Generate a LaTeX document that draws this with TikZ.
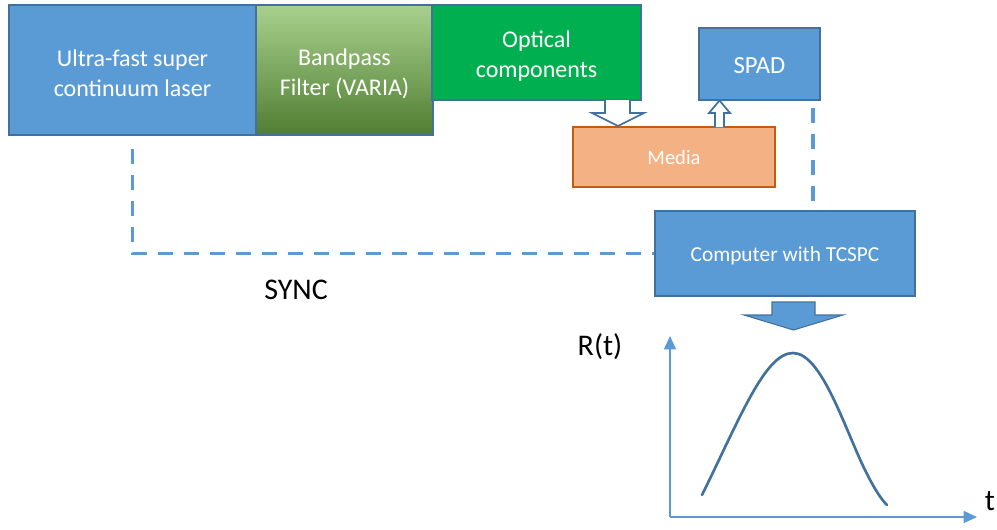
\documentclass[tikz,border=0pt]{standalone}
\usepackage{fontspec}
\setmainfont{Carlito}
\usetikzlibrary{arrows.meta,calc}
\definecolor{bfill}{HTML}{5B9BD5}
\definecolor{bdraw}{HTML}{41719C}
\definecolor{gfill}{HTML}{00B050}
\definecolor{gtop}{HTML}{A9D18E}
\definecolor{gbot}{HTML}{507E32}
\definecolor{mfill}{HTML}{F4B183}
\definecolor{mdraw}{HTML}{C55A11}
\tikzset{
  boxst/.style={draw=bdraw, line width=1.5pt, inner sep=0pt, text=white, align=center, font=\fontsize{18}{22.5}\selectfont},
  boxtext/.style={text=white, align=center, inner sep=0pt, font=\fontsize{18}{22.5}\selectfont},
  dashline/.style={draw=bfill, line width=2.6pt, dash pattern=on 11.25pt off 8.25pt},
  hollow/.style={draw=bdraw, line width=1.3pt, fill=white, line join=miter},
  axisst/.style={draw=bfill, line width=1.1pt, -{Triangle[width=9pt,length=10pt]}},
  bigtext/.style={text=black, font=\fontsize{22.5}{27}\selectfont, inner sep=0pt}
}
\begin{document}
\begin{tikzpicture}[x=0.75pt,y=-0.75pt]
\useasboundingbox (0,0) rectangle (997,529);
\node[boxst, fill=bfill, minimum width=185.25pt, minimum height=97.5pt,
  label={[boxtext, yshift=-2.4pt]center:Ultra-fast super\\continuum laser}] (laser) at (132.5,70) {};
\node[boxst, top color=gtop, bottom color=gbot, minimum width=132.75pt, minimum height=97.5pt,
  label={[boxtext, yshift=-2.6pt]center:Bandpass\\Filter (VARIA)}] (filter) at (344.5,70) {};
\node[boxst, fill=gfill, minimum width=156.75pt, minimum height=71.25pt,
  label={[boxtext, yshift=-3pt]center:Optical\\components}] (optic) at (536.5,52.5) {};
\node[boxst, fill=bfill, minimum width=90.75pt, minimum height=54pt,
  label={[boxtext, yshift=-1.2pt, font=\fontsize{18.5}{22}\selectfont]center:SPAD}] (spad) at (759.5,64) {};
\node[boxst, draw=mdraw, fill=mfill, minimum width=151.5pt, minimum height=45pt, font=\fontsize{15.4}{18}\selectfont] (media) at (674,157) {Media};
\node[boxst, fill=bfill, minimum width=195pt, minimum height=63.75pt,
  label={[boxtext, yshift=-1.8pt, font=\fontsize{16}{19}\selectfont]center:Computer with TCSPC}] (comp) at (785,253.5) {};
% hollow arrow optics -> media
\draw[hollow] (605,100) -- (605,113) -- (592,113) -- (618,126) -- (644,113) -- (630,113) -- (630,100);
% hollow arrow media -> spad
\draw[hollow] (715,127) -- (715,113) -- (709,113) -- (719.5,100.5) -- (730,113) -- (724,113) -- (724,127);
% big arrow computer -> graph
\draw[draw=bdraw, line width=0.8pt, fill=bfill, line join=miter] (772,302) -- (815,302) -- (815,315) -- (843,315) -- (793.5,330) -- (744,315) -- (772,315) -- cycle;
% dashed connectors
\coordinate (ls) at ($(laser.south)+(0,13)$);
\draw[dashline] (ls) |- (comp.west);
\coordinate (ss) at ($(spad.south east)+(-8,7)$);
\draw[dashline] (ss) -- (ss |- comp.north);
\node[bigtext] (sync) at (296,290) {SYNC};
% graph
\coordinate (o) at (670,517);
\coordinate (ytop) at (670,336);
\coordinate (xend) at (977,517);
\draw[axisst] (o) -- (ytop);
\draw[axisst] (o) -- (xend);
\node[bigtext] (rt) at (600,347) {R(t)};
\node[bigtext] (tl) at (990,501) {t};
\draw[draw=bdraw, line width=2pt, line cap=round] (702,495) .. controls (740,418) and (765,353) .. (793,353) .. controls (822,353) and (845,430) .. (866,472) .. controls (876,492) and (882,500) .. (887,505);
\end{tikzpicture}
\end{document}
